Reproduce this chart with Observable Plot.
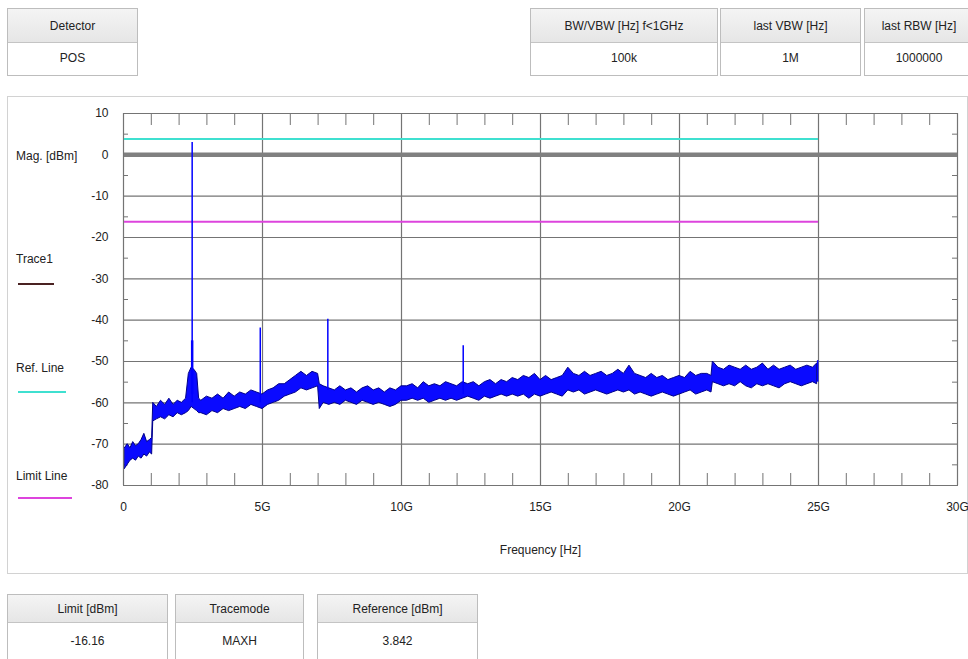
<!DOCTYPE html>
<html><head><meta charset="utf-8">
<script src="https://cdn.jsdelivr.net/npm/d3@7"></script>
<script src="https://cdn.jsdelivr.net/npm/@observablehq/plot@0.6"></script>
<style>
body{margin:0;width:968px;height:659px;position:relative;overflow:hidden;background:#fff;
 font-family:"Liberation Sans",Arial,sans-serif;font-size:12px;color:#222}
.box{position:absolute;border:1px solid #bdbdbd;box-sizing:border-box;background:#fff}
.hd{position:absolute;left:0;right:0;top:0;background:linear-gradient(#f4f4f4,#e6e6e6);border-bottom:1px solid #c4c4c4;
 display:flex;align-items:center;justify-content:center;box-sizing:border-box}
.vl{position:absolute;left:0;right:0;bottom:0;display:flex;align-items:center;justify-content:center}
.panel{position:absolute;left:7px;top:96px;width:961px;height:478px;border:1px solid #d2d2d2;box-sizing:border-box}
.lab{position:absolute;font-size:12px;line-height:14px;white-space:nowrap}
.sw{position:absolute;height:0;border-top:2px solid}
#chart{position:absolute;left:0;top:95px}
</style></head>
<body>
<div class="panel"></div>
<div id="chart"></div>
<script>
// ---- table contents ----
const topLeftHeads = ["Detector"];
const topLeftVals = ["POS"];
const topRightHeads = ["BW/VBW [Hz] f<1GHz", "last VBW [Hz]", "last RBW [Hz]"];
const topRightVals = ["100k", "1M", "1000000"];
const bottomHeads = ["Limit [dBm]", "Tracemode", "Reference [dBm]"];
const bottomVals = ["-16.16", "MAXH", "3.842"];

// ---- levels ----
const refLevel = 3.842;
const limitLevel = -16.16;
const zeroLevel = 0;
const lineEndGHz = 25;

// ---- axis ticks ----
const xTicks = [0, 5, 10, 15, 20, 25, 30];
const xTickLabels = ["0", "5G", "10G", "15G", "20G", "25G", "30G"];
const yTicks = [10, 0, -10, -20, -30, -40, -50, -60, -70, -80];
const yTickLabels = ["10", "0", "-10", "-20", "-30", "-40", "-50", "-60", "-70", "-80"];

// ---- trace (noise band, GHz / dBm) ----
const traceFreq = [0.05,0.15,0.25,0.35,0.45,0.55,0.65,0.75,0.85,0.95,1.03,
 1.07,1.2,1.35,1.5,1.65,1.8,1.95,2.1,2.25,
 2.35,2.45,2.55,2.65,2.72,
 2.8,3.0,3.2,3.4,3.6,3.8,4.0,4.2,4.4,4.6,4.8,5.0,
 5.2,5.4,5.6,5.8,6.0,6.2,6.4,6.6,6.8,7.0,
 7.06,7.2,7.4,7.6,7.8,8.0,8.2,8.4,8.6,8.8,9.0,9.2,9.4,9.6,9.8,10.0,
 10.2,10.4,10.6,10.8,11.0,11.2,11.4,11.6,11.8,12.0,12.2,12.4,12.6,12.8,13.0,13.2,13.4,13.6,13.8,14.0,
 14.2,14.4,14.6,14.8,15.0,15.2,15.4,15.6,15.8,16.0,16.2,16.4,16.6,16.8,17.0,17.2,17.4,17.6,17.8,18.0,
 18.2,18.4,18.6,18.8,19.0,19.2,19.4,19.6,19.8,20.0,20.2,20.4,20.6,20.8,21.0,21.15,
 21.2,21.4,21.6,21.8,22.0,22.2,22.4,22.6,22.8,23.0,23.2,23.4,23.6,23.8,24.0,24.2,24.4,24.6,24.8,24.95];
const traceHi = [-71,-70,-71,-69.5,-70.5,-70,-69,-67.5,-69.5,-69,-68.5,
 -60,-61,-59.5,-60.5,-59,-60.5,-59.5,-60,-59,
 -53,-51.5,-52,-53,-59,
 -59.5,-58.5,-59,-58,-59,-57.5,-58.5,-57.5,-58,-57,-57.5,-58,
 -57,-56.5,-55.5,-55.5,-54.5,-53.5,-52.5,-53.5,-52.5,-53,
 -55.5,-56,-56.5,-57,-56,-57,-56.5,-57.5,-56.5,-56,-57,-56.5,-57.5,-56.5,-57,-56,
 -56,-55.5,-56.5,-55,-56,-55.5,-56,-55,-55.5,-56,-55,-55.5,-55,-56,-55,-54.5,-55.5,-54.5,-55,-54,
 -54.5,-53.5,-54,-53,-54.5,-53.5,-54.5,-54,-53.5,-51.5,-53,-53.5,-52.5,-53.5,-53,-52.5,-53.5,-53,-52,-53,
 -51,-53,-53.5,-54,-53,-54,-53.5,-54.5,-54,-53.5,-54,-52.5,-53.5,-53,-53,-53.5,
 -50,-51.5,-52,-51,-51.5,-52,-51,-52,-51.5,-50.5,-52,-51,-52,-51.5,-51,-52,-51.5,-51,-51.5,-50.5];
const traceLo = [-76,-75,-74,-73.5,-74,-73,-73.5,-72.5,-73,-72,-72.5,
 -64.5,-64,-63.5,-64,-63,-63.5,-62.5,-63,-62.5,
 -62,-61,-61.5,-62,-62.5,
 -62.5,-63,-62,-62.5,-61.5,-62,-61.5,-61,-61.5,-60.5,-61,-61.5,
 -60.5,-60,-59.5,-58.5,-58,-57.5,-56.5,-57,-56.5,-56,
 -61.5,-60,-60.5,-60,-60.5,-59.5,-60,-60.5,-59.5,-60,-60.5,-60,-60.5,-61,-60.5,-59.5,
 -59.5,-59,-59.5,-59,-60,-59.5,-59,-59.5,-59,-59.5,-59,-58.5,-59,-59.5,-58.5,-59,-58.5,-58,-58.5,-58,
 -58.5,-58,-59,-58,-58.5,-58,-57.5,-58,-58.5,-57,-57.5,-57,-58,-57.5,-57,-57.5,-58,-57.5,-57,-57.5,
 -57,-58,-57.5,-58,-58.5,-58,-57.5,-58,-58.5,-58,-57.5,-57,-58,-57.5,-57,-57.5,
 -55,-55.5,-56,-55.5,-56,-55,-56,-56.5,-55.5,-56,-55.5,-56,-56.5,-55.5,-55,-55.5,-56,-55.5,-55,-55.5];

// ---- spurs ----
const spurFreq = [2.47, 4.92, 7.35, 12.22, 24.97];
const spurTop = [3.0, -41.9, -39.8, -46.2, -49.8];
const spurBase = [-60, -60, -57, -58, -55];
const shoulderFreq = [2.47];
const shoulderTop = [-45];
const shoulderBase = [-58];

// ---- build HTML tables ----
function table(x, y, widths, heads, vals, hh, vh, gap) {
  let left = x;
  heads.forEach((h, i) => {
    const b = document.createElement("div");
    b.className = "box";
    Object.assign(b.style, {left: left + "px", top: y + "px", width: widths[i] + "px", height: (hh + vh) + "px"});
    const hd = document.createElement("div"); hd.className = "hd"; hd.style.height = hh + "px"; hd.textContent = h;
    const vl = document.createElement("div"); vl.className = "vl"; vl.style.height = vh + "px"; vl.textContent = vals[i];
    b.append(hd, vl); document.body.append(b);
    left += widths[i] + gap[i];
  });
}
table(7, 8, [131], topLeftHeads, topLeftVals, 34, 34, [0]);
table(530, 8, [188, 141, 110], topRightHeads, topRightVals, 34, 34, [2, 3, 0]);
table(7, 594, [161, 129, 161], bottomHeads, bottomVals, 28, 40, [7, 13, 0]);

// ---- left legend ----
const legendItems = [
  {label: "Mag. [dBm]", top: 149},
  {label: "Trace1", top: 252, color: "#4a2222", width: 36, lineTop: 283},
  {label: "Ref. Line", top: 361, color: "#3fe0d0", width: 48, lineTop: 391},
  {label: "Limit Line", top: 469, color: "#dd44dd", width: 54, lineTop: 497}
];
legendItems.forEach(d => {
  const l = document.createElement("div"); l.className = "lab";
  l.style.left = "16px"; l.style.top = d.top + "px"; l.textContent = d.label; document.body.append(l);
  if (d.color) {
    const s = document.createElement("div"); s.className = "sw";
    Object.assign(s.style, {left: "18px", top: d.lineTop + "px", width: d.width + "px", borderTopColor: d.color});
    document.body.append(s);
  }
});

// ---- chart ----
const band = traceFreq.map((f, i) => ({f, hi: traceHi[i], lo: traceLo[i]}));
const spurs = spurFreq.map((f, i) => ({f, top: spurTop[i], base: spurBase[i]}));
const shoulders = shoulderFreq.map((f, i) => ({f, top: shoulderTop[i], base: shoulderBase[i]}));
const minorX = d3.range(1, 30).filter(d => d % 5 !== 0);
const minorY = d3.range(5, -80, -10);
const W = 968, H = 480, mL = 123, mR = 11, mT = 18, mB = 90;
const iw = W - mL - mR, ih = H - mT - mB;
const grey = "#747474";

const chart = Plot.plot({
  width: W, height: H,
  marginLeft: mL, marginRight: mR, marginTop: mT, marginBottom: mB,
  style: {fontFamily: '"Liberation Sans",Arial,sans-serif', fontSize: "12px", color: "#222", background: "transparent"},
  x: {domain: [0, 30]},
  y: {domain: [-80, 10]},
  marks: [
    Plot.gridY(yTicks, {stroke: grey, strokeOpacity: 1, strokeWidth: 1.2}),
    Plot.gridX(xTicks, {stroke: grey, strokeOpacity: 1, strokeWidth: 1.2}),
    Plot.ruleX(minorX, {stroke: grey, insetBottom: ih - 12}),
    Plot.ruleX(minorX, {stroke: grey, insetTop: ih - 12}),
    Plot.ruleY(minorY, {stroke: grey, insetRight: iw - 5}),
    Plot.ruleY(minorY, {stroke: grey, insetLeft: iw - 5}),
    Plot.ruleY([zeroLevel], {stroke: "#808080", strokeWidth: 4.5}),
    Plot.ruleY([refLevel], {x1: 0, x2: lineEndGHz, stroke: "#3fe0d0", strokeWidth: 2}),
    Plot.ruleY([limitLevel], {x1: 0, x2: lineEndGHz, stroke: "#dd44dd", strokeWidth: 2}),
    Plot.areaY(band, {x: "f", y1: "lo", y2: "hi", fill: "#0a0aff", stroke: "#00008a", strokeWidth: 1, curve: "linear"}),
    Plot.ruleX(shoulders, {x: "f", y1: "base", y2: "top", stroke: "#0000ff", strokeWidth: 2.5}),
    Plot.ruleX(spurs, {x: "f", y1: "base", y2: "top", stroke: "#0000ff", strokeWidth: 1.5}),
    Plot.frame({stroke: grey}),
    Plot.axisY(yTicks, {tickSize: 0, tickPadding: 15, label: null, tickFormat: (d) => yTickLabels[yTicks.indexOf(d)]}),
    Plot.axisX(xTicks, {tickSize: 0, tickPadding: 17, label: null, tickFormat: (d) => xTickLabels[xTicks.indexOf(d)]}),
    Plot.text(["Frequency [Hz]"], {frameAnchor: "bottom", dy: 68, fontSize: 12})
  ]
});
document.getElementById("chart").append(chart);
</script>
</body></html>
